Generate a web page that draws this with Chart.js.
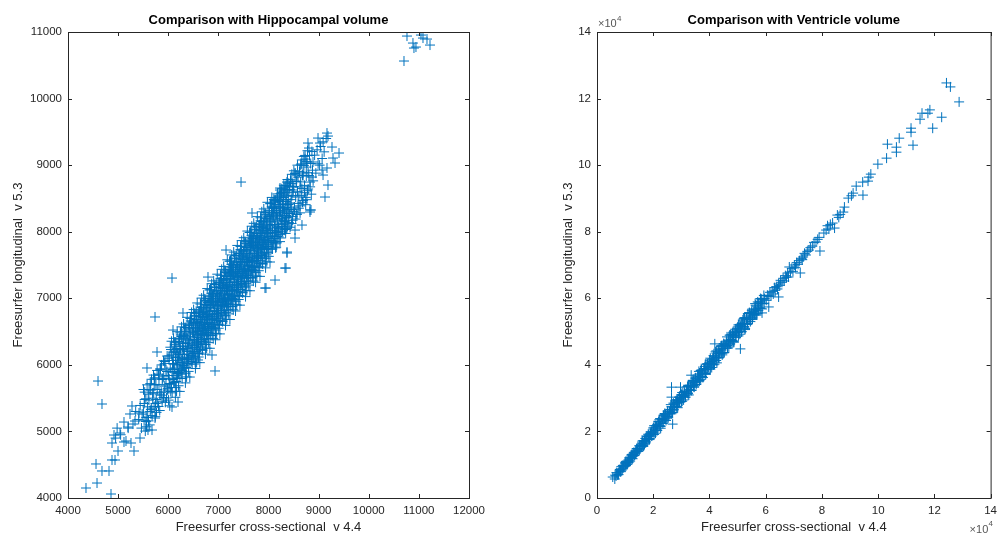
<!DOCTYPE html>
<html>
<head>
<meta charset="utf-8">
<script src="https://cdn.jsdelivr.net/npm/chart.js@4.4.0/dist/chart.umd.min.js"></script>
<style>
  body { margin: 0; background: #fff; }
  #wrap { position: relative; width: 1003px; height: 536px; overflow: hidden; }
  canvas { position: absolute; top: 0; }
</style>
</head>
<body>
<div id="wrap">
  <canvas id="hippo" width="530" height="536" style="left:0"></canvas>
  <canvas id="vent" width="473" height="536" style="left:530px"></canvas>
</div>
<script>
// tick values for both panels
var hippoTicksX = [4000, 5000, 6000, 7000, 8000, 9000, 10000, 11000, 12000];
var hippoTicksY = [4000, 5000, 6000, 7000, 8000, 9000, 10000, 11000];
var ventTicks = [0, 20000, 40000, 60000, 80000, 100000, 120000, 140000];

// hippocampal volume: [cross-sectional v4.4, longitudinal v5.3]
var hippoPoints = [
  [10763,10939],[10882,10834],[10902,10759],[10942,10774],[10703,10564],[11042,10954],[11082,10909],[11162,10894],[11222,10804],
  [4678,5412],[4599,5757],[4559,4511],[4359,4150],[4579,4225],[4678,4406],[4818,4406],[4858,4060],[4878,4571],[4938,4571],
  [4998,4706],[4878,4826],[4918,4946],[5038,4976],[5117,4841],[5157,4856],[5257,4826],[5317,4706],[5197,5066],[5117,5141],
  [5297,5111],[5337,5156],[5237,5262],[5277,5382],[5437,4901],[5417,5277],[5676,5021],[5596,5021],[5736,5201],[6075,5367],
  [6195,5442],[7452,8746],[6075,7304],[5736,6719],[6933,5908],[4950,4900],[4980,5050],[5200,5050],[5350,5300],[5050,4950],
  [9167,9482],[9187,9437],[8988,9407],[9028,9332],[8788,9332],[8808,9257],[9267,9272],[9407,9182],[9287,9107],[9327,9032],
  [8768,9032],[8888,9047],[9167,8957],[9068,8927],[9088,8851],[9187,8701],[9127,8521],[8868,8821],[8688,8881],[8569,8851],
  [8828,8746],[8369,8746],[8229,8626],[8489,8671],[8629,8671],[8130,8476],[8828,8326],[8070,8356],[8848,8326],[8668,8100],
  [8529,8025],[8369,7695],[8329,7454],[8130,7274],[7930,7154],[8349,7454],[7950,7154],[8369,7680],[8529,7905],[8828,8296],
  [7153,7725],[6793,7319],[7671,8281],[8070,8371],[8170,8506],[8229,8656],[8389,8731],[6294,6779],[6095,6523],[5776,6193],
  [5576,5953],[6873,6148],[6594,6073],
  [5410,5180],[5440,5390],[5465,5050],[5480,5260],[5520,5420],[5555,5150],
  [5505,5290],[5530,5480],[5560,5210],[5585,5370],[5600,5560],[5640,5300],
  [5615,5470],[5650,5620],[5670,5350],[5690,5500],[5720,5700],[5745,5420],
  [5710,5580],[5730,5790],[5760,5480],[5780,5630],[5805,5860],[5830,5560],
  [5815,5700],[5840,5940],[5860,5590],[5880,5780],[5905,5510],[5930,5680],
  [5910,5820],[5935,6050],[5955,5700],[5975,5900],[5990,5620],[6020,5790],
  [6005,5840],[6015,6100],[6030,5720],[6040,5950],[6055,6230],[6065,5660],[6075,5890],[6085,6020],[6090,5780],[6070,6150],[6050,5600],[6095,5930],
  [6105,6010],[6110,5800],[6120,6230],[6135,5900],[6145,6110],[6150,6340],[6160,5750],[6170,6000],[6180,6180],[6185,5870],[6195,6070],[6130,6280],
  [6205,6120],[6210,5880],[6220,6330],[6230,6000],[6240,6210],[6250,6450],[6260,5860],[6270,6090],[6280,6280],[6285,5980],[6290,6160],[6225,6400],
  [6305,6230],[6310,5990],[6320,6440],[6330,6100],[6340,6320],[6350,6560],[6360,5960],[6370,6200],[6380,6390],[6385,6080],[6395,6270],[6325,6500],
  [6405,6330],[6410,6090],[6420,6550],[6430,6210],[6440,6420],[6450,6660],[6460,6050],[6470,6300],[6480,6490],[6485,6180],[6495,6380],[6425,6610],
  [6503,6480],[6508,6120],[6512,6640],[6518,6380],[6523,6730],[6527,6260],[6533,6420],[6538,6040],[6542,6560],[6547,6520],
  [6553,6200],[6558,6780],[6562,6340],[6568,6680],[6572,6450],[6577,6300],[6583,6600],[6588,6170],[6592,6410],[6597,6500],
  [6603,6348],[6608,6648],[6612,6508],[6618,6808],[6623,6178],[6627,6568],[6633,6728],[6638,6438],[6642,6868],[6647,6268],
  [6653,6538],[6658,6688],[6662,6388],[6668,6618],[6672,6478],[6677,6768],[6683,6218],[6688,6718],[6692,6458],[6697,6548],
  [6703,6786],[6708,6566],[6712,6306],[6718,6866],[6723,6636],[6727,6436],[6733,6726],[6738,6966],[6742,6516],[6747,6606],
  [6753,6906],[6758,6356],[6762,6686],[6768,6806],[6772,6476],[6777,6746],[6783,6626],[6788,6936],[6792,6396],[6797,6676],
  [6803,6484],[6808,6774],[6812,6934],[6818,6634],[6823,7124],[6827,6724],[6833,6574],[6838,6864],[6842,6994],[6847,6444],
  [6853,6814],[6858,6684],[6862,6954],[6868,6544],[6872,6904],[6877,6704],[6883,7034],[6888,6614],[6892,6754],[6897,6394],
  [6903,6912],[6908,6552],[6912,7072],[6918,6812],[6923,7162],[6927,6692],[6933,6852],[6938,6472],[6942,6992],[6947,6952],
  [6953,6632],[6958,7212],[6962,6772],[6968,7112],[6972,6882],[6977,6732],[6983,7032],[6988,6602],[6992,6842],[6997,6932],
  [7003,6780],[7008,7080],[7012,6940],[7018,7240],[7023,6610],[7027,7000],[7033,7160],[7038,6870],[7042,7300],[7047,6700],
  [7053,6970],[7058,7120],[7062,6820],[7068,7050],[7072,6910],[7077,7200],[7083,6650],[7088,7150],[7092,6890],[7097,6980],
  [7103,7218],[7108,6998],[7112,6738],[7118,7298],[7123,7068],[7127,6868],[7133,7158],[7138,7398],[7142,6948],[7147,7038],
  [7153,7338],[7158,6788],[7162,7118],[7168,7238],[7172,6908],[7177,7178],[7183,7058],[7188,7368],[7192,6828],[7197,7108],
  [7203,6916],[7208,7206],[7212,7366],[7218,7066],[7223,7556],[7227,7156],[7233,7006],[7238,7296],[7242,7426],[7247,6876],
  [7253,7246],[7258,7116],[7262,7386],[7268,6976],[7272,7336],[7277,7136],[7283,7466],[7288,7046],[7292,7186],[7297,6826],
  [7303,7344],[7308,6984],[7312,7504],[7318,7244],[7323,7594],[7327,7124],[7333,7284],[7338,6904],[7342,7424],[7347,7384],
  [7353,7064],[7358,7644],[7362,7204],[7368,7544],[7372,7314],[7377,7164],[7383,7464],[7388,7034],[7392,7274],[7397,7364],
  [7403,7212],[7408,7512],[7412,7372],[7418,7672],[7423,7042],[7427,7432],[7433,7592],[7438,7302],[7442,7732],[7447,7132],
  [7453,7402],[7458,7552],[7462,7252],[7468,7482],[7472,7342],[7477,7632],[7483,7082],[7488,7582],[7492,7322],[7497,7412],
  [7503,7650],[7508,7430],[7512,7170],[7518,7730],[7523,7500],[7527,7300],[7533,7590],[7538,7830],[7542,7380],[7547,7470],
  [7553,7770],[7558,7220],[7562,7550],[7568,7670],[7572,7340],[7577,7610],[7583,7490],[7588,7800],[7592,7260],[7597,7540],
  [7603,7348],[7608,7638],[7612,7798],[7618,7498],[7623,7988],[7627,7588],[7633,7438],[7638,7728],[7642,7858],[7647,7308],
  [7653,7678],[7658,7548],[7662,7818],[7668,7408],[7672,7768],[7677,7568],[7683,7898],[7688,7478],[7692,7618],[7697,7258],
  [7703,7776],[7708,7416],[7712,7936],[7718,7676],[7723,8026],[7727,7556],[7733,7716],[7738,7336],[7742,7856],[7747,7816],
  [7753,7496],[7758,8076],[7762,7636],[7768,7976],[7772,7746],[7777,7596],[7783,7896],[7788,7466],[7792,7706],[7797,7796],
  [7803,7644],[7808,7944],[7812,7804],[7818,8104],[7823,7474],[7827,7864],[7833,8024],[7838,7734],[7842,8164],[7847,7564],
  [7853,7834],[7858,7984],[7862,7684],[7868,7914],[7872,7774],[7877,8064],[7883,7514],[7888,8014],[7892,7754],[7897,7844],
  [7903,8082],[7908,7862],[7912,7602],[7918,8162],[7923,7932],[7927,7732],[7933,8022],[7938,8262],[7942,7812],[7947,7902],
  [7953,8202],[7958,7652],[7962,7982],[7968,8102],[7972,7772],[7977,8042],[7983,7922],[7988,8232],[7992,7692],[7997,7972],
  [8004,7780],[8011,8070],[8018,8230],[8025,7930],[8032,8420],[8039,8020],[8046,7870],[8053,8160],[8060,8290],[8067,7740],
  [8074,8110],[8081,7980],[8088,8250],[8095,7840],
  [8104,8208],[8111,7848],[8118,8368],[8125,8108],[8132,8458],[8139,7988],[8146,8148],[8153,7768],[8160,8288],[8167,8248],
  [8174,7928],[8181,8508],[8188,8068],[8195,8408],
  [8204,8076],[8211,8376],[8218,8236],[8225,8536],[8232,7906],[8239,8296],[8246,8456],[8253,8166],[8260,8596],[8267,7996],
  [8274,8266],[8281,8416],[8288,8116],[8295,8346],
  [8304,8514],[8311,8294],[8318,8034],[8325,8594],[8332,8364],[8339,8164],[8346,8454],[8353,8694],[8360,8244],[8367,8334],
  [8374,8634],[8381,8084],[8388,8414],[8395,8534],
  [8404,8412],[8411,8682],[8418,8272],[8425,8632],[8432,8432],[8439,8762],[8446,8342],[8453,8482],[8460,8122],[8467,8542],
  [8474,8722],[8481,8172],[8488,8592],[8495,8302],
  [8506,8680],[8518,8330],[8530,8880],[8542,8520],[8554,8760],[8566,8260],[8578,8600],[8590,8820],
  [8606,8538],[8618,8908],[8630,8388],[8642,8748],[8654,9018],[8666,8648],[8678,8848],[8690,8468],
  [8706,8996],[8718,8696],[8730,9146],[8742,8516],[8754,8836],[8766,9056],[8778,8616],[8790,8886],
  [8806,8844],[8818,9144],[8830,8674],[8842,9024],[8854,8564],[8866,9204],[8878,8924],[8890,8764],
  [8920,9150],[8945,8880],[8970,9230],[8990,9020],[9020,9000],[9040,9280],[9070,9100],[9090,9350],[9110,9200],[9150,9400]
];

// hippocampal: looser points on both sides of the core
var hippoEdge = [
  [5506,5630],[5518,5160],[5530,5590],[5542,5005],[5554,5490],[5566,5070],[5578,5700],[5590,5210],
  [5606,5158],[5618,5628],[5630,5098],[5642,5718],[5654,5328],[5666,5783],[5678,5238],[5690,5578],
  [5706,5846],[5718,5376],[5730,5806],[5742,5221],[5754,5706],[5766,5286],[5778,5916],[5790,5426],
  [5806,5374],[5818,5844],[5830,5314],[5842,5934],[5854,5544],[5866,5999],[5878,5454],[5890,5794],
  [5906,6062],[5918,5592],[5930,6022],[5942,5437],[5954,5922],[5966,5502],[5978,6132],[5990,5642],
  [6006,5470],[6018,6135],[6030,5385],[6042,6265],[6054,5710],[6066,6355],[6078,5580],[6090,6065],
  [6106,6398],[6118,5733],[6130,6343],[6142,5513],[6154,6203],[6166,5603],[6178,6498],[6190,5803],
  [6206,5686],[6218,6351],[6230,5601],[6242,6481],[6254,5926],[6266,6571],[6278,5796],[6290,6281],
  [6306,6614],[6318,5949],[6330,6559],[6342,5729],[6354,6419],[6366,5819],[6378,6714],[6390,6019],
  [6406,5902],[6418,6567],[6430,5817],[6442,6697],[6454,6142],[6466,6787],[6478,6012],[6490,6497],
  [6506,6830],[6518,6165],[6530,6775],[6542,5945],[6554,6635],[6566,6035],[6578,6930],[6590,6235],
  [6606,6118],[6618,6783],[6630,6033],[6642,6913],[6654,6358],[6666,7003],[6678,6228],[6690,6713],
  [6706,7046],[6718,6381],[6730,6991],[6742,6161],[6754,6851],[6766,6251],[6778,7146],[6790,6451],
  [6806,6334],[6818,6999],[6830,6249],[6842,7129],[6854,6574],[6866,7219],[6878,6444],[6890,6929],
  [6906,7262],[6918,6597],[6930,7207],[6942,6377],[6954,7067],[6966,6467],[6978,7362],[6990,6667],
  [7006,6550],[7018,7215],[7030,6465],[7042,7345],[7054,6790],[7066,7435],[7078,6660],[7090,7145],
  [7106,7478],[7118,6813],[7130,7423],[7142,6593],[7154,7283],[7166,6683],[7178,7578],[7190,6883],
  [7206,6766],[7218,7431],[7230,6681],[7242,7561],[7254,7006],[7266,7651],[7278,6876],[7290,7361],
  [7306,7694],[7318,7029],[7330,7639],[7342,6809],[7354,7499],[7366,6899],[7378,7794],[7390,7099],
  [7406,6982],[7418,7647],[7430,6897],[7442,7777],[7454,7222],[7466,7867],[7478,7092],[7490,7577],
  [7506,7910],[7518,7245],[7530,7855],[7542,7025],[7554,7715],[7566,7115],[7578,8010],[7590,7315],
  [7606,7198],[7618,7863],[7630,7113],[7642,7993],[7654,7438],[7666,8083],[7678,7308],[7690,7793],
  [7706,8126],[7718,7461],[7730,8071],[7742,7241],[7754,7931],[7766,7331],[7778,8226],[7790,7531],
  [7806,7414],[7818,8079],[7830,7329],[7842,8209],[7854,7654],[7866,8299],[7878,7524],[7890,8009],
  [7906,8342],[7918,7677],[7930,8287],[7942,7457],[7954,8147],[7966,7547],[7978,8442],[7990,7747],
  [8006,7630],[8018,8295],[8030,7545],[8042,8425],[8054,7870],[8066,8515],[8078,7740],[8090,8225],
  [8106,8483],[8118,7938],[8130,8443],[8142,7758],[8154,8323],[8166,7833],[8178,8568],[8190,7993],
  [8206,7921],[8218,8466],[8230,7851],[8242,8571],[8254,8116],[8266,8646],[8278,8011],[8290,8411],
  [8306,8699],[8318,8154],[8330,8659],[8342,7974],[8354,8539],[8366,8049],[8378,8784],[8390,8209],
  [8406,8137],[8418,8682],[8430,8067],[8442,8787],[8454,8332],[8466,8862],[8478,8227],[8490,8627],
  [8506,8915],[8518,8370],[8530,8875],[8542,8190],[8554,8755],[8566,8265],[8578,9000],[8590,8425],
  [8606,8353],[8618,8898],[8630,8283],[8642,9003],[8654,8548],[8666,9078],[8678,8443],[8690,8843],
  [8706,9131],[8718,8586],[8730,9091],[8742,8406],[8754,8971],[8766,8481],[8778,9216],[8790,8641]
];

// hippocampal: extra points in the dense middle of the cloud
var hippoCore = [
  [6102,6188],[6112,5738],[6122,5938],[6132,6308],[6142,5658],[6152,6108],[6162,5838],[6172,6248],[6182,6028],[6192,5898],
  [6202,5886],[6212,6376],[6222,6156],[6232,5796],[6242,6246],[6252,6036],[6262,6426],[6272,5916],[6282,6076],[6292,6326],
  [6302,6404],[6312,5954],[6322,6154],[6332,6524],[6342,5874],[6352,6324],[6362,6054],[6372,6464],[6382,6244],[6392,6114],
  [6402,6102],[6412,6592],[6422,6372],[6432,6012],[6442,6462],[6452,6252],[6462,6642],[6472,6132],[6482,6292],[6492,6542],
  [6502,6620],[6512,6170],[6522,6370],[6532,6740],[6542,6090],[6552,6540],[6562,6270],[6572,6680],[6582,6460],[6592,6330],
  [6602,6318],[6612,6808],[6622,6588],[6632,6228],[6642,6678],[6652,6468],[6662,6858],[6672,6348],[6682,6508],[6692,6758],
  [6702,6836],[6712,6386],[6722,6586],[6732,6956],[6742,6306],[6752,6756],[6762,6486],[6772,6896],[6782,6676],[6792,6546],
  [6802,6534],[6812,7024],[6822,6804],[6832,6444],[6842,6894],[6852,6684],[6862,7074],[6872,6564],[6882,6724],[6892,6974],
  [6902,7052],[6912,6602],[6922,6802],[6932,7172],[6942,6522],[6952,6972],[6962,6702],[6972,7112],[6982,6892],[6992,6762],
  [7002,6750],[7012,7240],[7022,7020],[7032,6660],[7042,7110],[7052,6900],[7062,7290],[7072,6780],[7082,6940],[7092,7190],
  [7102,7268],[7112,6818],[7122,7018],[7132,7388],[7142,6738],[7152,7188],[7162,6918],[7172,7328],[7182,7108],[7192,6978],
  [7202,6966],[7212,7456],[7222,7236],[7232,6876],[7242,7326],[7252,7116],[7262,7506],[7272,6996],[7282,7156],[7292,7406],
  [7302,7484],[7312,7034],[7322,7234],[7332,7604],[7342,6954],[7352,7404],[7362,7134],[7372,7544],[7382,7324],[7392,7194],
  [7402,7182],[7412,7672],[7422,7452],[7432,7092],[7442,7542],[7452,7332],[7462,7722],[7472,7212],[7482,7372],[7492,7622],
  [7502,7700],[7512,7250],[7522,7450],[7532,7820],[7542,7170],[7552,7620],[7562,7350],[7572,7760],[7582,7540],[7592,7410],
  [7602,7398],[7612,7888],[7622,7668],[7632,7308],[7642,7758],[7652,7548],[7662,7938],[7672,7428],[7682,7588],[7692,7838],
  [7702,7916],[7712,7466],[7722,7666],[7732,8036],[7742,7386],[7752,7836],[7762,7566],[7772,7976],[7782,7756],[7792,7626],
  [7802,7614],[7812,8104],[7822,7884],[7832,7524],[7842,7974],[7852,7764],[7862,8154],[7872,7644],[7882,7804],[7892,8054],
  [7902,8132],[7912,7682],[7922,7882],[7932,8252],[7942,7602],[7952,8052],[7962,7782],[7972,8192],[7982,7972],[7992,7842],
  [8002,7830],[8012,8320],[8022,8100],[8032,7740],[8042,8190],[8052,7980],[8062,8370],[8072,7860],[8082,8020],[8092,8270],
  [8102,8348],[8112,7898],[8122,8098],[8132,8468],[8142,7818],[8152,8268],[8162,7998],[8172,8408],[8182,8188],[8192,8058],
  [8202,8046],[8212,8536],[8222,8316],[8232,7956],[8242,8406],[8252,8196],[8262,8586],[8272,8076],[8282,8236],[8292,8486],
  [8302,8564],[8312,8114],[8322,8314],[8332,8684],[8342,8034],[8352,8484],[8362,8214],[8372,8624],[8382,8404],[8392,8274]
];

// ventricle volume: [cross-sectional v4.4, longitudinal v5.3]
var ventPoints = [
  [5600,6300],[6340,5710],[6440,6860],[6790,6630],[6890,7600],[7320,6950],[7510,7500],[7670,7030],[8120,8420],[8220,8490],
  [8560,8080],[8650,9410],[9020,8820],[9350,9730],[9460,9560],[9630,9510],[10050,10300],[10230,9770],[10580,10440],[10780,10870],
  [11000,10640],[11340,11370],[11440,12040],[11790,11090],[11890,12240],[12320,12190],[12510,12920],[12670,12510],[13120,13720],[13220,12770],
  [13560,13500],[13650,14050],[14020,13820],[14350,14850],[14460,14080],[14630,14810],[15050,14400],[15230,15610],[15580,15680],[15780,15630],
  [16000,16800],[16340,15950],[16440,15500],[16790,17250],[16890,17100],[17320,16550],[17510,18600],[17670,17650],[18120,17500],[18220,19150],
  [18560,18700],[18650,17550],[19020,19400],[19350,19850],[19460,18600],[19630,19750],[20050,20700],[20230,19850],[20580,20300],[20780,21750],
  [21000,21300],[21340,20350],[21440,22100],[21790,21550],[21890,23000],[22320,21750],[22510,22500],[22670,21550],[23120,23700],[23220,23650],
  [23560,22800],[23650,24850],[24020,23700],[24350,25050],[24460,24600],[24630,24350],[25050,25500],[25230,24450],[25580,25400],[25780,25950],
  [26000,25400],[26340,26450],[26440,27400],[26790,25650],[26890,27400],[27320,27150],[27510,28200],[27670,27350],[28120,29200],[28220,27450],
  [28560,28500],[28650,29250],[29020,28700],[29350,30250],[29460,28800],[29630,29850],[30050,29000],[30230,30850],[30580,30800],[30780,30550],
  [31000,31960],[31340,30890],[31440,30300],[31790,31850],[31890,32120],[32320,31410],[32510,33820],[32670,32630],[33120,32400],[33220,33330],
  [33560,33740],[33650,32310],[34020,34480],[34350,34970],[34460,33420],[34630,34750],[35050,35840],[35230,34770],[35580,35260],[35780,36950],
  [36000,36390],[36340,35080],[36440,37280],[36790,36490],[36890,38300],[37320,36600],[37510,37500],[37670,36190],[38120,38910],[38220,38770],
  [38560,37590],[38650,40180],[39020,38610],[39350,40290],[39460,39630],[39630,39230],[40050,40650],[40230,39210],[40580,40370],[40780,41010],
  [41000,40160],[41340,41530],[41440,42760],[41790,40210],[41890,42560],[42320,42110],[42510,43480],[42670,42190],[43120,44680],[43220,42130],
  [43560,43500],[43650,44450],[44020,43580],[44350,45650],[44460,43520],[44630,44890],[45050,43600],[45230,46090],[45580,45920],[45780,45470],
  [46000,47120],[46340,45830],[46440,45100],[46790,47450],[46890,47140],[47320,46270],[47510,49040],[47670,47610],[48120,47300],[48220,49510],
  [48560,48780],[48650,47070],[49020,49560],[49350,50090],[49460,48240],[49630,49750],[50050,50980],[50230,49690],[50580,50220],[50780,52150],
  [51000,51450],[51340,49900],[51440,52400],[51790,52450],[51890,53500],[52320,51500],[52510,52500],[52670,50950],[53120,54050],[53220,53850],
  [53560,52450],[53650,55400],[54020,53550],[54350,55450],[54460,54650],[54630,54150],[55050,55750],[55230,54050],[55580,55350],[55780,56050],
  [56000,55040],[56340,56570],[56440,57940],[56790,54990],[56890,57640],[57320,57090],[57510,58620],[57670,57110],[58120,59920],[58220,56970],
  [58560,58500],[58650,59550],[59020,58520],[59350,60850],[59460,58380],[59630,59910],
  [60200,59400],[60600,60900],[61100,60500],[61500,61800],[61900,60700],[62300,62100],[62700,61300],[63100,63200],[63400,62400],[63800,63500],
  [64200,62800],[64600,64300],[65000,63900],[65300,65400],[65800,64800],[66200,66000],[66600,65200],[67000,66800],[67400,66300],[67800,67600],
  [68100,66400],[68400,69400],[68800,67900],[69300,69000],[69700,68100],[70200,70000],[70600,69300],[71000,70700],[71500,70200],[72300,67600],
  [72000,71300],[72600,72000],[73000,71600],[73300,72400],[73800,73500],[74300,73000],[74800,74100],[75400,74500],[75900,75200],[76600,75700],
  [77200,76800],[64600,60400],[61100,57400],[58700,55600],
  [26900,22200],[26500,33300],[29700,33300],[26500,30300],[51000,44800],[41900,46300],[33500,36900],
  [77900,76900],[79300,74200],[80700,79600],[83800,82600],[84500,81100],[85500,85000],[88000,87400],[87600,85900],[89400,90100],[94600,91000],
  [91100,91600],[92200,93700],[96400,95200],[96700,96400],[97400,97300],[99900,100300],[103000,102100],[103300,106300],[106500,105400],[106500,103900],
  [107500,108100],[112400,106000],[111700,111100],[111700,109900],[114900,113800],[115600,115600],[117700,115600],[118400,116600],[119400,111100],[122600,114400],
  [124300,124700],[125700,123500],[128800,119000],
  [78500,77700],[79000,78300],[81500,80500],[82000,81800],[82500,80800],[83000,82200],[86000,84300],[86500,85200],[90500,90800],[94500,94900]
];

// ventricle: second pass along the band so it reads as solid
var ventBand = [
  [8120,8500],[8420,7900],[9200,9800],[9350,9100],[10060,10700],[10300,9700],[11150,11400],[11440,10800],[12180,12900],[12380,11900],
  [13120,13500],[13420,12900],[14200,14800],[14350,14100],[15060,15700],[15300,14700],[16150,16400],[16440,15800],[17180,17900],[17380,16900],
  [18120,18500],[18420,17900],[19200,19800],[19350,19100],[20060,21100],[20300,19100],[21150,21600],[21440,20300],[22180,23500],[22380,21500],
  [23120,23900],[23420,22400],[24200,25300],[24350,23800],[25060,26100],[25300,24100],[26150,26600],[26440,25300],[27180,28500],[27380,26500],
  [28120,28900],[28420,27400],[29200,30300],[29350,28800],[30060,31100],[30300,29100],[31150,31600],[31440,30300],[32180,33500],[32380,31500],
  [33120,33900],[33420,32400],[34200,35300],[34350,33800],[35060,36100],[35300,34100],[36150,36600],[36440,35300],[37180,38500],[37380,36500],
  [38120,38900],[38420,37400],[39200,40300],[39350,38800],[40060,41400],[40300,38700],[41150,41800],[41440,40000],[42180,43900],[42380,41300],
  [43120,44100],[43420,42100],[44200,45700],[44350,43600],[45060,46400],[45300,43700],[46150,46800],[46440,45000],[47180,48900],[47380,46300],
  [48120,49100],[48420,47100],[49200,50700],[49350,48600],[50060,51400],[50300,48700],[51150,51800],[51440,50000],[52180,53900],[52380,51300],
  [53120,54100],[53420,52100],[54200,55700],[54350,53600],[55060,56400],[55300,53700],[56150,56800],[56440,55000],[57180,58900],[57380,56300],
  [58120,59100]
];

// ventricle: looser points on the edges of the band
var ventWide = [
  [10300,11000],[10800,10100],[12450,13100],[12650,11800],[14100,14800],[14550,14000],[16250,17200],[16900,16200],[18400,18900],[18700,17900],
  [20300,21700],[20800,19470],[22450,23870],[22650,20960],[24100,25360],[24550,23300],[26250,28040],[26900,25640],[28400,29530],[28700,27130],
  [30300,31700],[30800,29470],[32450,33870],[32650,30960],[34100,35360],[34550,33300],[36250,38040],[36900,35640],[38400,39530],[38700,37130],
  [40300,42000],[40800,39200],[42450,44200],[42650,40600],[44100,45600],[44550,43000],[46250,48400],[46900,45400],[48400,49800],[48700,46800],
  [50300,52000],[50800,49200],[52450,54200],[52650,50600],[54100,55600],[54550,53000],[56250,58400],[56900,55400],[58400,59800],[58700,56800]
];

var markerColor = '#0072BD';
var axisColor = '#262626';
var fontFamily = '"Liberation Sans", Arial, Helvetica, sans-serif';

// box, inward ticks, titles and axis labels like the matlab figure
var framePlugin = {
  id: 'frame',
  afterDraw: function(chart, args, opts) {
    var ctx = chart.ctx;
    var a = chart.chartArea;
    var sx = chart.scales.x, sy = chart.scales.y;
    ctx.save();
    ctx.strokeStyle = axisColor;
    ctx.lineWidth = 1;
    ctx.strokeRect(a.left + 0.5, a.top + 0.5, a.right - a.left, a.bottom - a.top);
    ctx.beginPath();
    sx.ticks.forEach(function(t) {
      var px = Math.round(sx.getPixelForValue(t.value)) + 0.5;
      ctx.moveTo(px, a.bottom); ctx.lineTo(px, a.bottom - 4);
      ctx.moveTo(px, a.top); ctx.lineTo(px, a.top + 4);
    });
    sy.ticks.forEach(function(t) {
      var py = Math.round(sy.getPixelForValue(t.value)) + 0.5;
      ctx.moveTo(a.left, py); ctx.lineTo(a.left + 4, py);
      ctx.moveTo(a.right, py); ctx.lineTo(a.right - 4, py);
    });
    ctx.stroke();

    var cx = (a.left + a.right) / 2;
    ctx.textAlign = 'center';
    ctx.textBaseline = 'middle';
    ctx.fillStyle = '#000';
    ctx.font = 'bold 13px ' + fontFamily;
    ctx.fillText(opts.title, cx, 20);

    ctx.fillStyle = axisColor;
    ctx.font = '13px ' + fontFamily;
    ctx.fillText(opts.xLabel, cx, 527);
    ctx.save();
    ctx.translate(opts.yLabelX, (a.top + a.bottom) / 2);
    ctx.rotate(-Math.PI / 2);
    ctx.fillText(opts.yLabel, 0, 0);
    ctx.restore();

    if (opts.exponent) {
      ctx.fillStyle = '#555';
      ctx.textAlign = 'left';
      ctx.font = '11px ' + fontFamily;
      ctx.fillText('\u00d710', a.left + 1, 24);
      ctx.font = '8px ' + fontFamily;
      ctx.fillText('4', a.left + 20, 19);
      ctx.font = '11px ' + fontFamily;
      ctx.fillText('\u00d710', a.right - 21, 530);
      ctx.font = '8px ' + fontFamily;
      ctx.fillText('4', a.right - 2, 524);
    }
    ctx.restore();
  }
};

function makeScatter(id, points, xTicks, yTicks, yWidth, padRight, frameOpts, tickText) {
  var tickFont = { family: fontFamily, size: 11.5 };
  return new Chart(document.getElementById(id), {
    type: 'scatter',
    data: {
      datasets: [{
        data: points.map(function(p) { return { x: p[0], y: p[1] }; }),
        pointStyle: 'cross',
        radius: 5,
        borderWidth: 1,
        borderColor: markerColor,
        backgroundColor: markerColor
      }]
    },
    options: {
      responsive: false,
      animation: false,
      events: [],
      layout: { padding: { left: 0, right: padRight, top: 32, bottom: 0 } },
      plugins: {
        legend: { display: false },
        tooltip: { enabled: false },
        frame: frameOpts
      },
      scales: {
        x: {
          type: 'linear',
          min: xTicks[0],
          max: xTicks[xTicks.length - 1],
          grid: { display: false, drawTicks: false },
          border: { display: false },
          afterBuildTicks: function(s) { s.ticks = xTicks.map(function(v) { return { value: v }; }); },
          afterFit: function(s) { s.height = 38; },
          ticks: { color: axisColor, font: tickFont, padding: 6, autoSkip: false, maxRotation: 0, callback: tickText }
        },
        y: {
          type: 'linear',
          min: yTicks[0],
          max: yTicks[yTicks.length - 1],
          grid: { display: false, drawTicks: false },
          border: { display: false },
          afterBuildTicks: function(s) { s.ticks = yTicks.map(function(v) { return { value: v }; }); },
          afterFit: function(s) { s.width = yWidth; },
          ticks: { color: axisColor, font: tickFont, padding: 6, autoSkip: false, callback: tickText }
        }
      }
    },
    plugins: [framePlugin]
  });
}

makeScatter('hippo', hippoPoints.concat(hippoEdge, hippoCore), hippoTicksX, hippoTicksY, 68, 61, {
  title: 'Comparison with Hippocampal volume',
  xLabel: 'Freesurfer cross-sectional  v 4.4',
  yLabel: 'Freesurfer longitudinal  v 5.3',
  yLabelX: 18,
  exponent: false
}, function(v) { return String(v); });

makeScatter('vent', ventPoints.concat(ventBand, ventWide), ventTicks, ventTicks, 67, 5, {
  title: 'Comparison with Ventricle volume',
  xLabel: 'Freesurfer cross-sectional  v 4.4',
  yLabel: 'Freesurfer longitudinal  v 5.3',
  yLabelX: 38,
  exponent: true
}, function(v) { return String(v / 10000); });
</script>
</body>
</html>
